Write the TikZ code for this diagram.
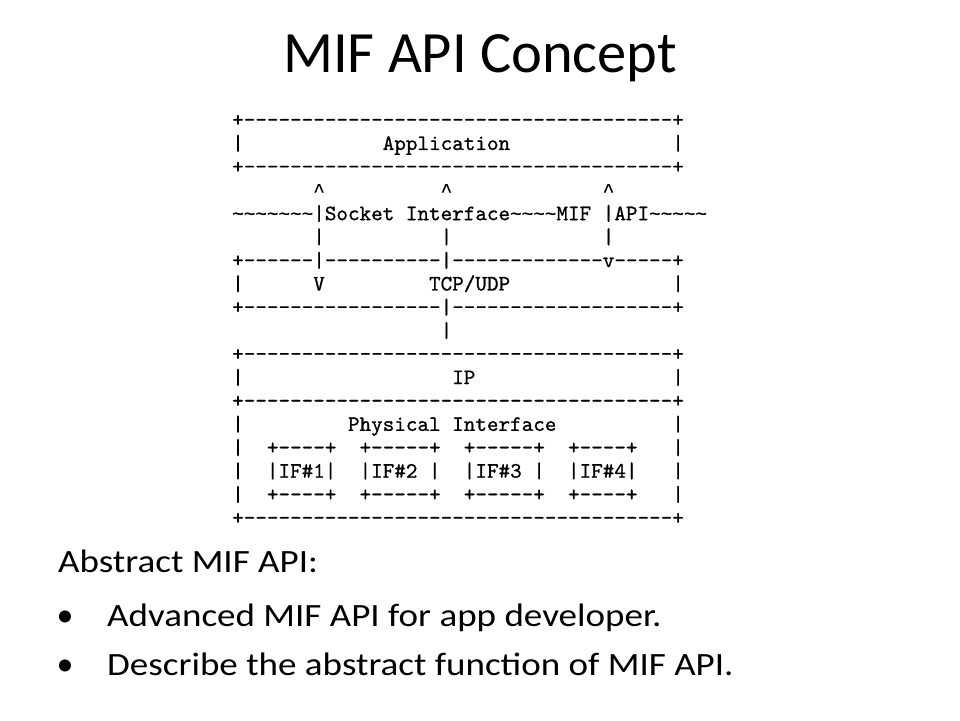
\documentclass[tikz,border=0pt]{standalone}
\usepackage{fontspec}
\setmainfont{Carlito}
\newfontfamily\asciifont[Ligatures=TeXOff,FakeBold=0.8]{lmmono10-regular.otf}
\newfontfamily\libmono[FakeBold=0.5]{Liberation Mono}
\newlength\chw
\setlength\chw{11.58pt}
\ExplSyntaxOn
\cs_new:Npn \asciirep #1#2 {\prg_replicate:nn {#1}{#2}}
\ExplSyntaxOff
\newcommand\dsh[1]{\asciirep{#1}{-}}
\newcommand\bl[1]{\kern#1\chw}
\newcommand\tlc{\makebox[\chw]{\libmono\fontsize{19.3}{23}\selectfont\textasciitilde}}
\newcommand\tl[1]{\asciirep{#1}{\tlc}}
\newcommand\crt{\makebox[\chw]{\libmono\fontsize{19.3}{23}\selectfont\textasciicircum}}
\newcommand\aline[1]{#1}
\newcommand\bline[1]{\scalebox{1.14}[1]{#1}}
\begin{document}
\begin{tikzpicture}[x=1pt,y=1pt,
  asciiline/.style={anchor=base west,inner sep=0pt,outer sep=0pt,
    font=\asciifont\fontsize{22.06}{24}\selectfont},
  titletext/.style={anchor=base,inner sep=0pt,font=\fontsize{58.5}{60}\selectfont},
  bodytext/.style={anchor=base west,inner sep=0pt,font=\fontsize{32.5}{34}\selectfont},
  bulletmark/.style={anchor=base,inner sep=0pt,font=\fontsize{34}{36}\selectfont}]
\useasboundingbox (0,0) rectangle (960,720);
\fill[white] (0,0) rectangle (960,720);
% title
\node[titletext] (title) at (480,647) {MIF API Concept};
% ascii diagram
\def\xo{232.2}
\node[asciiline] (r0)  at (\xo,593.4) {\aline{+\dsh{37}+}};
\node[asciiline] (r1)  at (\xo,570.0) {\aline{|\bl{12}Application\bl{14}|}};
\node[asciiline] (r2)  at (\xo,546.6) {\aline{+\dsh{37}+}};
\node[asciiline] (r3)  at (\xo,523.2) {\aline{\bl{7}\crt\bl{10}\crt\bl{13}\crt}};
\node[asciiline] (r4)  at (\xo,499.8) {\aline{\tl{7}|Socket\bl{1}Interface\tl{4}MIF\bl{1}|API\tl{5}}};
\node[asciiline] (r5)  at (\xo,476.4) {\aline{\bl{7}|\bl{10}|\bl{13}|}};
\node[asciiline] (r6)  at (\xo,452.9) {\aline{+\dsh{6}|\dsh{10}|\dsh{13}v\dsh{5}+}};
\node[asciiline] (r7)  at (\xo,429.5) {\aline{|\bl{6}V\bl{9}TCP/UDP\bl{14}|}};
\node[asciiline] (r8)  at (\xo,406.1) {\aline{+\dsh{17}|\dsh{19}+}};
\node[asciiline] (r9)  at (\xo,382.7) {\aline{\bl{18}|}};
\node[asciiline] (r10) at (\xo,359.3) {\aline{+\dsh{37}+}};
\node[asciiline] (r11) at (\xo,335.9) {\aline{|\bl{18}IP\bl{17}|}};
\node[asciiline] (r12) at (\xo,312.5) {\aline{+\dsh{37}+}};
\node[asciiline] (r13) at (\xo,289.1) {\aline{|\bl{9}Physical\bl{1}Interface\bl{10}|}};
\node[asciiline] (r14) at (\xo,265.7) {\aline{|\bl{2}+\dsh{4}+\bl{2}+\dsh{5}+\bl{2}+\dsh{5}+\bl{2}+\dsh{4}+\bl{3}|}};
\node[asciiline] (r15) at (\xo,242.3) {\aline{|\bl{2}|IF\#1|\bl{2}|IF\#2\bl{1}|\bl{2}|IF\#3\bl{1}|\bl{2}|IF\#4|\bl{3}|}};
\node[asciiline] (r16) at (\xo,218.8) {\aline{|\bl{2}+\dsh{4}+\bl{2}+\dsh{5}+\bl{2}+\dsh{5}+\bl{2}+\dsh{4}+\bl{3}|}};
\node[asciiline] (r17) at (\xo,195.4) {\aline{+\dsh{37}+}};
% body text
\node[bodytext] (abs) at (58,148) {\bline{Abstract MIF API:}};
\node[bulletmark] (b1) at (65,93.3) {\textbullet};
\node[bodytext] (t1) at (107,93.3) {\bline{Advanced MIF API for app developer.}};
\node[bulletmark] (b2) at (65,45) {\textbullet};
\node[bodytext] (t2) at (107,45) {\bline{Describe the abstract function of MIF API.}};
\end{tikzpicture}
\end{document}
